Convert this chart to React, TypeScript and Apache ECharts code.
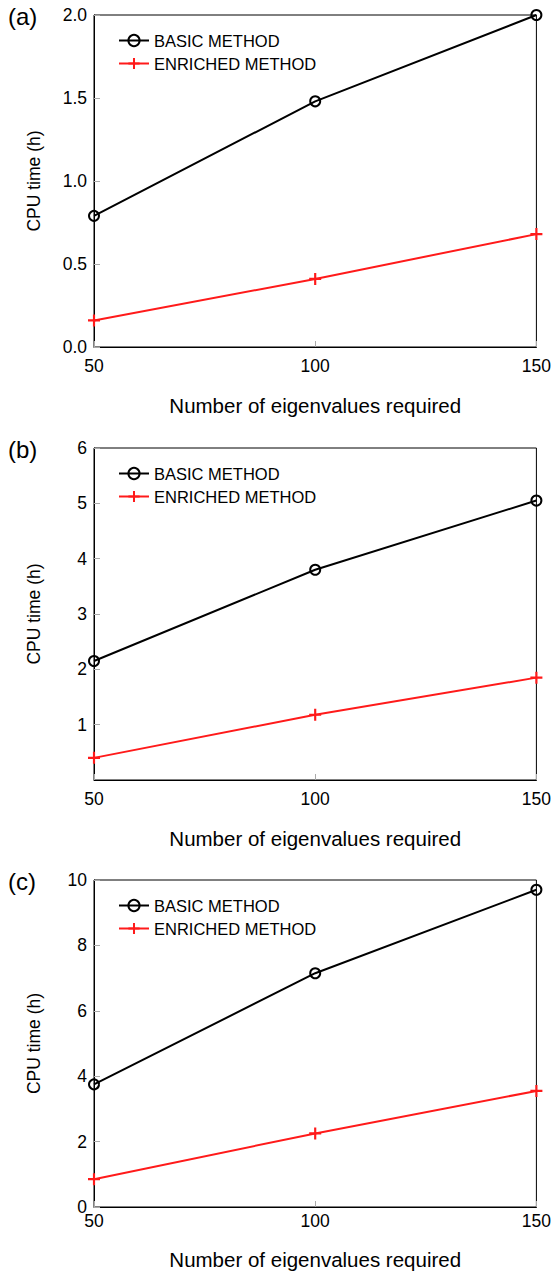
import React, { useEffect, useRef } from "react";
import * as echarts from "echarts";

const xValues = [50, 100, 150];
const basicA = [0.79, 1.48, 2.0];
const enrichedA = [0.16, 0.41, 0.68];
const basicB = [2.15, 3.8, 5.05];
const enrichedB = [0.4, 1.18, 1.85];
const basicC = [3.75, 7.15, 9.7];
const enrichedC = [0.85, 2.25, 3.55];
const panelLabels = ["(a)", "(b)", "(c)"];
const yMax = [2, 6, 10];
const yInterval = [0.5, 1, 2];
const seriesNames = ["BASIC METHOD", "ENRICHED METHOD"];

const FONT = "Liberation Sans";
const PLUS = "path://M4.1,0H5.9V4.1H10V5.9H5.9V10H4.1V5.9H0V4.1H4.1Z";

export default function App() {
  const ref = useRef<HTMLDivElement>(null);
  useEffect(() => {
    document.body.style.margin = "0";
    const chart = echarts.init(ref.current!, null, { renderer: "svg" });
    const tops = [15, 448, 880];
    const H = 332;
    const nameGaps = [48, 48, 42];
    const labelMargins = [10, 10, 5];
    const basics = [basicA, basicB, basicC];
    const enricheds = [enrichedA, enrichedB, enrichedC];
    const grids = tops.map((t) => ({
      left: 94,
      right: 16,
      top: t,
      height: H,
      show: true,
      borderColor: "#000",
      borderWidth: 1,
    }));
    const xAxes = tops.map((_, i) => ({
      type: "value",
      gridIndex: i,
      min: 50,
      max: 150,
      interval: 50,
      name: "Number of eigenvalues required",
      nameLocation: "middle",
      nameGap: nameGaps[i],
      nameTextStyle: { fontFamily: FONT, fontSize: 20.5, color: "#000" },
      axisLine: { lineStyle: { color: "#000", width: 1 } },
      axisTick: { inside: true, length: 6, lineStyle: { color: "#aaa" } },
      axisLabel: { fontFamily: FONT, fontSize: 17.5, color: "#000", margin: labelMargins[i] },
      splitLine: { show: false },
    }));
    const yAxes = tops.map((_, i) => ({
      type: "value",
      gridIndex: i,
      min: 0,
      max: yMax[i],
      interval: yInterval[i],
      name: "CPU time (h)",
      nameLocation: "middle",
      nameGap: 51,
      nameTextStyle: { fontFamily: FONT, fontSize: 17.5, color: "#000" },
      axisLine: { show: true, lineStyle: { color: "#000", width: 1 } },
      axisTick: { inside: true, length: 6, lineStyle: { color: "#aaa" } },
      axisLabel: {
        fontFamily: FONT,
        fontSize: 17.5,
        color: "#000",
        margin: 7,
        showMinLabel: i !== 1,
        formatter: (v: number) => (i === 0 ? v.toFixed(1) : String(v)),
      },
      splitLine: { show: false },
    }));
    const series: any[] = [];
    tops.forEach((_, i) => {
      series.push({
        type: "line",
        name: seriesNames[0],
        xAxisIndex: i,
        yAxisIndex: i,
        data: xValues.map((x, k) => [x, basics[i][k]]),
        symbol: "circle",
        symbolSize: 10,
        lineStyle: { color: "#000", width: 2 },
        itemStyle: { color: "rgba(0,0,0,0)", borderColor: "#000", borderWidth: 2 },
      });
      series.push({
        type: "line",
        name: seriesNames[1],
        xAxisIndex: i,
        yAxisIndex: i,
        data: xValues.map((x, k) => [x, enricheds[i][k]]),
        symbol: PLUS,
        symbolSize: 12,
        lineStyle: { color: "#ff1a1a", width: 2 },
        itemStyle: { color: "#ff1a1a" },
      });
    });
    const legends = tops.map((t) => ({
      data: seriesNames,
      orient: "vertical",
      left: 113,
      top: t + 12,
      itemWidth: 30,
      itemHeight: 14,
      itemGap: 6,
      textStyle: { fontFamily: FONT, fontSize: 16.5, color: "#000" },
      selectedMode: false,
    }));
    const graphics = tops.map((t, i) => ({
      type: "text",
      left: 8,
      top: t - 11,
      style: { text: panelLabels[i], fontFamily: FONT, fontSize: 24, fill: "#000" },
    }));
    chart.setOption({
      animation: false,
      backgroundColor: "#fff",
      grid: grids,
      xAxis: xAxes,
      yAxis: yAxes,
      legend: legends,
      series,
      graphic: graphics,
    });
    return () => chart.dispose();
  }, []);
  return <div ref={ref} style={{ width: 554, height: 1271 }} />;
}
